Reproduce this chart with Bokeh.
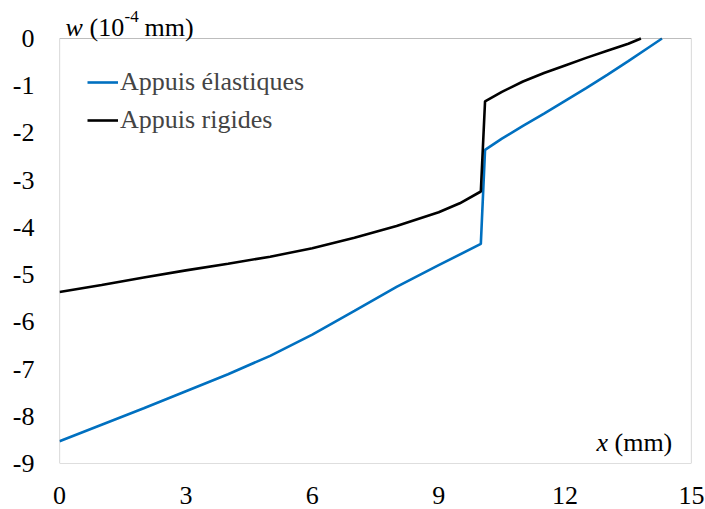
from bokeh.plotting import figure
from bokeh.models import Legend, LegendItem, Label, FixedTicker, Range1d, BoxAnnotation
from bokeh.embed import file_html
from bokeh.resources import INLINE

# Data
x_elastic = [0, 1, 2, 3, 4, 5, 6, 7, 8, 9, 10, 10.1, 10.5, 11, 11.5, 12, 12.5, 13, 13.5, 14, 14.3]
w_elastic = [-8.53, -8.18, -7.83, -7.47, -7.11, -6.72, -6.27, -5.77, -5.26, -4.80, -4.35,
             -2.36, -2.12, -1.85, -1.59, -1.32, -1.05, -0.77, -0.48, -0.18, 0.0]

x_rigid = [0, 1, 2, 3, 4, 5, 6, 7, 8, 9, 9.5, 10, 10.1, 10.5, 11, 11.5, 12, 12.5, 13, 13.5, 13.8]
w_rigid = [-5.37, -5.22, -5.06, -4.91, -4.77, -4.62, -4.44, -4.22, -3.97, -3.68, -3.49, -3.24,
           -1.33, -1.13, -0.91, -0.73, -0.57, -0.41, -0.26, -0.11, 0.0]

x_ticks = [0, 3, 6, 9, 12, 15]
y_ticks = [0, -1, -2, -3, -4, -5, -6, -7, -8, -9]
x_min, x_max = 0, 15
y_min, y_max = -9, 0
series_names = ["Appuis élastiques", "Appuis rigides"]
series_colors = ["#0070C0", "#000000"]

FONT = "Liberation Serif"
FS = "26px"

# The plot box spans 425 px for the 9 units; extra headroom above holds the axis title
PLOT_H = 425
HEAD = 38
y_top = y_max + HEAD * (y_max - y_min) / PLOT_H

p = figure(frame_width=632, frame_height=PLOT_H + HEAD, output_backend="svg", toolbar_location=None,
           x_range=Range1d(x_min, x_max), y_range=Range1d(y_min, y_top),
           min_border_left=59, min_border_right=14, min_border_top=0, min_border_bottom=46)

p.background_fill_color = "white"
p.border_fill_color = "white"
p.outline_line_color = None
p.xgrid.visible = False
p.ygrid.visible = False

# plot-area border
p.add_layout(BoxAnnotation(left=x_min, right=x_max, bottom=y_min, top=y_max,
                           fill_alpha=0, line_color="#262626", line_width=1.2))

for ax in (p.xaxis[0], p.yaxis[0]):
    ax.axis_line_color = None
    ax.major_tick_line_color = None
    ax.minor_tick_line_color = None
    ax.major_label_text_font = FONT
    ax.major_label_text_font_size = FS
    ax.major_label_text_color = "black"

p.xaxis[0].ticker = FixedTicker(ticks=x_ticks)
p.xaxis[0].major_label_standoff = 17
p.yaxis[0].ticker = FixedTicker(ticks=y_ticks)
p.yaxis[0].major_label_standoff = 19
p.yaxis[0].major_label_overrides = {t: str(t) for t in y_ticks}
p.xaxis[0].major_label_overrides = {t: str(t) for t in x_ticks}

r1 = p.line(x_elastic, w_elastic, line_color=series_colors[0], line_width=2.6)
r2 = p.line(x_rigid, w_rigid, line_color=series_colors[1], line_width=2.6)

legend = Legend(items=[LegendItem(label=series_names[0], renderers=[r1]),
                       LegendItem(label=series_names[1], renderers=[r2])],
                location=(28, PLOT_H - 25 - 76), margin=0, padding=0, spacing=0,
                glyph_width=31, glyph_height=38, label_height=38, label_standoff=2,
                label_text_font=FONT, label_text_font_size=FS,
                background_fill_alpha=0, border_line_alpha=0)
p.add_layout(legend)

# y-axis title: w (10^-4 mm)
title_parts = [
    ("w", 6, 11, "italic", FS),
    ("(10", 30, 11, "normal", FS),
    ("-4", 65, 22, "normal", "17px"),
    ("mm)", 85, 11, "normal", FS),
]
for txt, xo, yo, style, fs in title_parts:
    p.add_layout(Label(x=x_min, y=y_max, x_offset=xo, y_offset=yo, text=txt,
                       text_font=FONT, text_font_size=fs, text_font_style=style,
                       text_baseline="alphabetic", text_align="left", text_color="black"))

# x-axis title inside the frame: x (mm)
p.add_layout(Label(x=x_max, y=y_min, x_offset=-95, y_offset=21, text="x",
                   text_font=FONT, text_font_size=FS, text_font_style="italic",
                   text_baseline="alphabetic", text_color="black"))
p.add_layout(Label(x=x_max, y=y_min, x_offset=-77, y_offset=21, text="(mm)",
                   text_font=FONT, text_font_size=FS,
                   text_baseline="alphabetic", text_color="black"))

open("out.html", "w").write(file_html(p, INLINE))
